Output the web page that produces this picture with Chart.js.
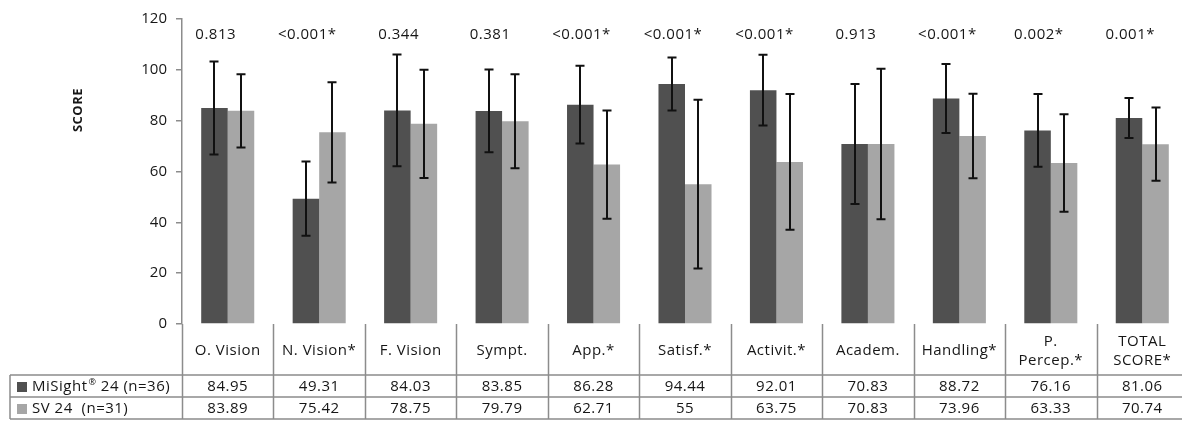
<!DOCTYPE html>
<html>
<head>
<meta charset="utf-8">
<script src="https://cdn.jsdelivr.net/npm/chart.js@4/dist/chart.umd.min.js"></script>
<style>
  html, body { margin: 0; padding: 0; background: #fff; overflow: hidden; }
  #wrap { width: 1190px; height: 430px; }
</style>
</head>
<body>
<div id="wrap"><canvas id="c" width="1190" height="430"></canvas></div>
<script>
// ---- data ----
const categories = [
  ["O. Vision"], ["N. Vision*"], ["F. Vision"], ["Sympt."], ["App.*"], ["Satisf.*"],
  ["Activit.*"], ["Academ."], ["Handling*"], ["P.", "Percep.*"], ["TOTAL", "SCORE*"]
];
const seriesNames = ["MiSight", "SV 24  (n=31)"];
const misightValues = [84.95, 49.31, 84.03, 83.85, 86.28, 94.44, 92.01, 70.83, 88.72, 76.16, 81.06];
const svValues      = [83.89, 75.42, 78.75, 79.79, 62.71, 55, 63.75, 70.83, 73.96, 63.33, 70.74];
const misightSD     = [18.3, 14.6, 22.0, 16.3, 15.3, 10.4, 13.9, 23.6, 13.6, 14.3, 7.9];
const svSD          = [14.4, 19.7, 21.3, 18.5, 21.3, 33.2, 26.7, 29.6, 16.6, 19.2, 14.4];
const misightTableText = ["84.95","49.31","84.03","83.85","86.28","94.44","92.01","70.83","88.72","76.16","81.06"];
const svTableText      = ["83.89","75.42","78.75","79.79","62.71","55","63.75","70.83","73.96","63.33","70.74"];
const pValues = ["0.813", "<0.001*", "0.344", "0.381", "<0.001*", "<0.001*", "<0.001*", "0.913", "<0.001*", "0.002*", "0.001*"];
const yTicks = [0, 20, 40, 60, 80, 100, 120];

const DARK = "#505050";
const LIGHT = "#a6a6a6";
const LINE = "#8c8c8c";
const TXT = "#161616";
const FONT = "'Open Sans', sans-serif";
const FS = 15;

const sdSets = [misightSD, svSD];

function setFont(ctx, size, bold) {
  ctx.font = (bold ? "bold " : "") + size + "px " + FONT;
  try { ctx.letterSpacing = "0.5px"; } catch (e) {}
}

const extras = {
  id: "extras",
  afterDatasetsDraw(chart) {
    const ctx = chart.ctx;
    const ys = chart.scales.y;
    ctx.save();
    ctx.strokeStyle = "#111";
    ctx.lineWidth = 2;
    chart.data.datasets.forEach((ds, i) => {
      const meta = chart.getDatasetMeta(i);
      meta.data.forEach((el, j) => {
        const v = ds.data[j], sd = sdSets[i][j];
        const x = Math.round(el.x);
        const yt = ys.getPixelForValue(v + sd);
        const yb = ys.getPixelForValue(v - sd);
        ctx.beginPath();
        ctx.moveTo(x, yt); ctx.lineTo(x, yb);
        ctx.moveTo(x - 4.5, yt); ctx.lineTo(x + 4.5, yt);
        ctx.moveTo(x - 4.5, yb); ctx.lineTo(x + 4.5, yb);
        ctx.stroke();
      });
    });
    ctx.restore();
  },
  afterDraw(chart) {
    const ctx = chart.ctx;
    const xs = chart.scales.x;
    const ys = chart.scales.y;
    const n = categories.length;
    const left = chart.chartArea.left;
    const right = chart.chartArea.right;
    const cw = (right - left) / n;
    const axisY = ys.getPixelForValue(0);
    const r1 = 375, r2 = 397, r3 = 419, legendLeft = 10;

    ctx.save();
    // p-values
    ctx.fillStyle = TXT;
    setFont(ctx, FS, false);
    ctx.textAlign = "center";
    ctx.textBaseline = "middle";
    pValues.forEach((p, i) => {
      const cx = xs.getPixelForValue(i);
      ctx.fillText(p, cx - 12, 35);
    });

    // y title
    ctx.save();
    ctx.translate(78, 110);
    ctx.rotate(-Math.PI / 2);
    setFont(ctx, 13, true);
    ctx.fillText("SCORE", 0, 0);
    ctx.restore();

    // table lines
    ctx.strokeStyle = LINE;
    ctx.lineWidth = 1.5;
    ctx.beginPath();
    for (let k = 0; k <= n; k++) {
      const x = Math.round(left + k * cw) + 0.5;
      ctx.moveTo(x, axisY); ctx.lineTo(x, r3);
    }
    [r1, r2, r3].forEach(y => { ctx.moveTo(legendLeft, y); ctx.lineTo(right, y); });
    ctx.moveTo(legendLeft, r1); ctx.lineTo(legendLeft, r3);
    ctx.stroke();

    // header labels and values
    ctx.fillStyle = TXT;
    setFont(ctx, FS, false);
    categories.forEach((lab, i) => {
      const cx = left + (i + 0.5) * cw;
      if (lab.length === 1) {
        ctx.fillText(lab[0], cx, 351);
      } else {
        ctx.fillText(lab[0], cx, 342);
        ctx.fillText(lab[1], cx, 361);
      }
      ctx.fillText(misightTableText[i], cx, 387);
      ctx.fillText(svTableText[i], cx, 409);
    });

    // legend cells
    ctx.textAlign = "left";
    ctx.fillStyle = DARK;
    ctx.fillRect(17, 382, 10, 10);
    ctx.fillStyle = LIGHT;
    ctx.fillRect(17, 404, 10, 10);
    ctx.fillStyle = TXT;
    let x = 32;
    ctx.fillText(seriesNames[0], x, 387);
    x += ctx.measureText(seriesNames[0]).width + 1;
    setFont(ctx, 9, false);
    ctx.fillText("\u00AE", x, 382);
    x += ctx.measureText("\u00AE").width;
    setFont(ctx, FS, false);
    ctx.fillText(" 24 (n=36)", x, 387);
    ctx.fillText(seriesNames[1], 32, 409);
    ctx.restore();
  }
};

new Chart(document.getElementById("c"), {
  type: "bar",
  data: {
    labels: categories.map(c => c.join(" ")),
    datasets: [
      { label: "MiSight 24 (n=36)", data: misightValues, backgroundColor: DARK, barPercentage: 1, categoryPercentage: 0.58 },
      { label: "SV 24 (n=31)", data: svValues, backgroundColor: LIGHT, barPercentage: 1, categoryPercentage: 0.58 }
    ]
  },
  options: {
    responsive: false,
    animation: false,
    layout: { padding: { left: 0, right: 2, top: 19, bottom: 106 } },
    plugins: { legend: { display: false }, tooltip: { enabled: false } },
    scales: {
      x: { display: false },
      y: {
        min: 0, max: 120,
        afterFit(scale) { scale.width = 182; },
        afterBuildTicks(scale) { scale.ticks = yTicks.map(v => ({ value: v })); },
        ticks: { color: TXT, font: { family: FONT, size: 15 }, padding: 9 },
        grid: { display: true, drawOnChartArea: false, drawTicks: true, tickLength: 6, color: LINE, lineWidth: 1.5 },
        border: { display: true, color: LINE, width: 1.5 }
      }
    }
  },
  plugins: [extras]
});
</script>
</body>
</html>
